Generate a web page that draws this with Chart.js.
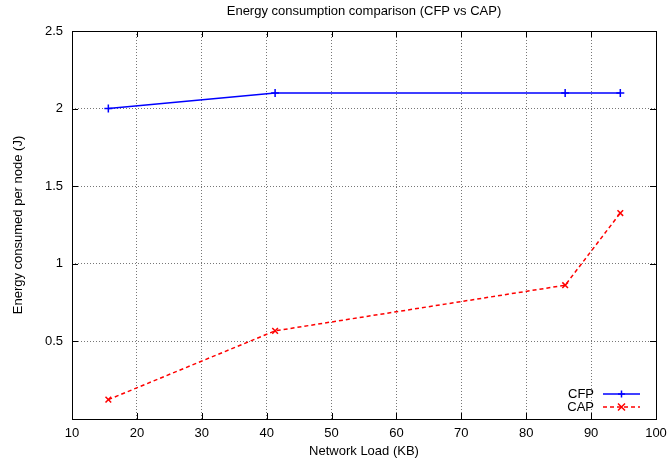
<!DOCTYPE html>
<html>
<head>
<meta charset="utf-8">
<script src="https://cdn.jsdelivr.net/npm/chart.js@4"></script>
<style>
    html, body { margin: 0; padding: 0; background: #fff; }
    #wrap { width: 669px; height: 464px; }
</style>
</head>
<body>
<div id="wrap"><canvas id="mainChart" width="669" height="464"></canvas></div>
<script>
// Energy consumption, gnuplot look
const chartTitle = 'Energy consumption comparison (CFP vs CAP)';
const loads = [15.6, 41.3, 86, 94.5];
const cfpEnergy = [2.0, 2.1, 2.1, 2.1];
const capEnergy = [0.125, 0.568, 0.862, 1.327];
const xTicks = [10, 20, 30, 40, 50, 60, 70, 80, 90, 100];
const yTicks = [0, 0.5, 1, 1.5, 2, 2.5];

const FONT = 'Liberation Sans, Arial, Helvetica, sans-serif';

// title over the plot, frame, inward tick marks and the in-plot legend
const gnuplotFrame = {
    id: 'gnuplotFrame',
    afterDatasetsDraw(chart) {
        const { ctx, chartArea: a, scales } = chart;
        ctx.save();

        ctx.font = '13px ' + FONT;
        ctx.fillStyle = '#000';
        ctx.textAlign = 'center';
        ctx.textBaseline = 'middle';
        ctx.fillText(chartTitle, (a.left + a.right) / 2, 11);

        ctx.strokeStyle = '#000';
        ctx.lineWidth = 1;
        ctx.setLineDash([]);
        ctx.strokeRect(Math.round(a.left) + 0.5, Math.round(a.top) + 0.5,
            Math.round(a.right - a.left), Math.round(a.bottom - a.top));

        const t = 6;
        ctx.beginPath();
        xTicks.forEach(v => {
            const px = Math.round(scales.x.getPixelForValue(v)) + 0.5;
            ctx.moveTo(px, a.bottom); ctx.lineTo(px, a.bottom - t);
            ctx.moveTo(px, a.top); ctx.lineTo(px, a.top + t);
        });
        yTicks.forEach(v => {
            const py = Math.round(scales.y.getPixelForValue(v)) + 0.5;
            ctx.moveTo(a.left, py); ctx.lineTo(a.left + t, py);
            ctx.moveTo(a.right, py); ctx.lineTo(a.right - t, py);
        });
        ctx.stroke();

        // legend
        ctx.textAlign = 'right';
        chart.data.datasets.forEach((ds, i) => {
            const y = a.bottom - 25 + i * 13;
            const x0 = a.right - 53;
            ctx.fillStyle = '#000';
            ctx.fillText(ds.label, x0 - 9, y);
            ctx.strokeStyle = ds.borderColor;
            ctx.lineWidth = ds.borderWidth;
            ctx.setLineDash(ds.borderDash || []);
            ctx.beginPath();
            ctx.moveTo(x0, y); ctx.lineTo(x0 + 37, y);
            ctx.stroke();
            ctx.setLineDash([]);
            ctx.lineWidth = 1.5;
            const cx = x0 + 18.5, r = 3.5;
            ctx.beginPath();
            if (ds.pointStyle === 'cross') {
                ctx.moveTo(cx, y - r); ctx.lineTo(cx, y + r);
                ctx.moveTo(cx - r, y); ctx.lineTo(cx + r, y);
            } else {
                ctx.moveTo(cx - r, y - r); ctx.lineTo(cx + r, y + r);
                ctx.moveTo(cx - r, y + r); ctx.lineTo(cx + r, y - r);
            }
            ctx.stroke();
        });
        ctx.restore();
    }
};

new Chart(document.getElementById('mainChart'), {
    type: 'line',
    data: {
        datasets: [
            {
                label: 'CFP',
                data: loads.map((x, i) => ({ x, y: cfpEnergy[i] })),
                borderColor: '#0000ff',
                backgroundColor: '#0000ff',
                borderWidth: 1.5,
                pointStyle: 'cross',
                pointRadius: 4,
                pointBorderWidth: 1.5,
                tension: 0
            },
            {
                label: 'CAP',
                data: loads.map((x, i) => ({ x, y: capEnergy[i] })),
                borderColor: '#ff0000',
                backgroundColor: '#ff0000',
                borderWidth: 1.5,
                borderDash: [4, 3],
                pointStyle: 'crossRot',
                pointRadius: 4,
                pointBorderWidth: 1.5,
                tension: 0
            }
        ]
    },
    options: {
        responsive: false,
        animation: false,
        layout: { padding: { left: 0, right: 13, top: 31, bottom: 0 } },
        plugins: {
            legend: { display: false },
            tooltip: { enabled: false },
            title: { display: false }
        },
        scales: {
            x: {
                type: 'linear',
                min: 10,
                max: 100,
                afterBuildTicks: s => { s.ticks = xTicks.map(v => ({ value: v })); },
                afterFit: s => { s.height = 45; s.paddingLeft = 0; s.paddingRight = 0; },
                border: { display: false, dash: [1, 2] },
                grid: {
                    color: '#777',
                    lineWidth: 1,
                    drawTicks: false
                },
                ticks: {
                    color: '#000',
                    padding: 7,
                    maxRotation: 0,
                    font: { family: FONT, size: 13 }
                },
                title: {
                    display: true,
                    text: 'Network Load (KB)',
                    color: '#000',
                    font: { family: FONT, size: 13 },
                    padding: { top: 0, bottom: 5 }
                }
            },
            y: {
                type: 'linear',
                min: 0,
                max: 2.5,
                afterBuildTicks: s => { s.ticks = yTicks.map(v => ({ value: v })); },
                afterFit: s => { s.width = 72; s.paddingTop = 0; s.paddingBottom = 0; },
                border: { display: false, dash: [1, 2] },
                grid: {
                    color: '#777',
                    lineWidth: 1,
                    drawTicks: false
                },
                ticks: {
                    color: '#000',
                    padding: 9,
                    font: { family: FONT, size: 13 },
                    callback: v => v === 0 ? '' : String(v)
                },
                title: {
                    display: true,
                    text: 'Energy consumed per node (J)',
                    color: '#000',
                    font: { family: FONT, size: 13 },
                    padding: { top: 11, bottom: 0 }
                }
            }
        }
    },
    plugins: [gnuplotFrame]
});
</script>
</body>
</html>
